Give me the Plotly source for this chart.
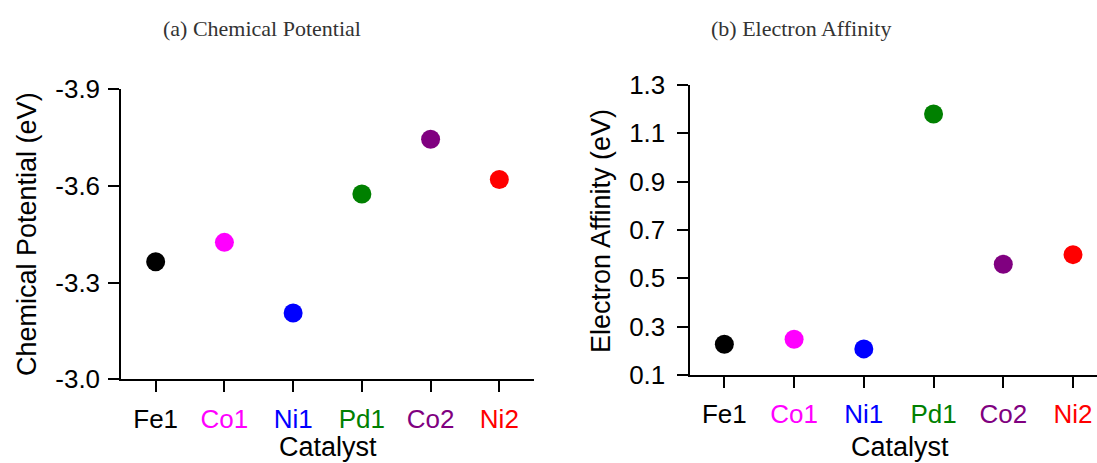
import plotly.graph_objects as go

W, H = 1097, 463

categories = ["Fe1", "Co1", "Ni1", "Pd1", "Co2", "Ni2"]
colors = ["#000000", "#FF00FF", "#0000FF", "#008000", "#800080", "#FF0000"]
chem_potential = [-3.365, -3.425, -3.206, -3.575, -3.745, -3.62]
electron_affinity = [0.227, 0.248, 0.208, 1.18, 0.558, 0.598]

chem_ticks = [-3.0, -3.3, -3.6, -3.9]
ea_ticks = [0.1, 0.3, 0.5, 0.7, 0.9, 1.1, 1.3]

ticktext = [f"<span style='color:{c}'>{n}</span>" for n, c in zip(categories, colors)]

FONT = "Liberation Sans, Arial, sans-serif"
TICKFONT = dict(family=FONT, size=26, color="black")

fig = go.Figure()
fig.add_trace(go.Scatter(x=categories, y=chem_potential, mode="markers",
                         marker=dict(size=19, color=colors, line=dict(width=0)),
                         xaxis="x", yaxis="y", showlegend=False))
fig.add_trace(go.Scatter(x=categories, y=electron_affinity, mode="markers",
                         marker=dict(size=19, color=colors, line=dict(width=0)),
                         xaxis="x2", yaxis="y2", showlegend=False))

common_axis = dict(showline=True, linewidth=2, linecolor="black", ticks="outside",
                   ticklen=11, tickwidth=2, tickcolor="black", showgrid=False,
                   zeroline=False, tickfont=TICKFONT, automargin=False)

# pixel-based domains
lx0, lx1 = 121.3 / W, 533.7 / W
ly0, ly1 = (H - 379.3) / H, (H - 89.3) / H
rx0, rx1 = 689.5 / W, 1.0
ry0, ry1 = (H - 375) / H, (H - 85) / H

fig.update_layout(
    width=W, height=H,
    margin=dict(l=0, r=0, t=0, b=0),
    paper_bgcolor="white", plot_bgcolor="white",
    xaxis=dict(domain=[lx0, lx1], anchor="y", type="category", range=[-0.5, 5.5],
               tickvals=categories, ticktext=ticktext, ticklabelstandoff=4, **common_axis),
    yaxis=dict(domain=[ly0, ly1], anchor="x", range=[-3.0, -3.9], ticklabelstandoff=3,
               tickvals=chem_ticks, ticktext=[f"{v:.1f}" for v in chem_ticks], **common_axis),
    xaxis2=dict(domain=[rx0, rx1], anchor="y2", type="category", range=[-0.5, 5.344],
                tickvals=categories, ticktext=ticktext, ticklabelstandoff=4, **common_axis),
    yaxis2=dict(domain=[ry0, ry1], anchor="x2", range=[0.1, 1.3], ticklabelstandoff=6,
                tickvals=ea_ticks, ticktext=[f"{v:.1f}" for v in ea_ticks], **common_axis),
)

TITLEFONT = dict(family="Liberation Serif, Times New Roman, serif", size=22, color="#333333")
AXTITLE = dict(family=FONT, size=27, color="black")

annotations = [
    dict(text="(a) Chemical Potential", x=262 / W, y=1 - 28 / H, font=TITLEFONT),
    dict(text="(b) Electron Affinity", x=801 / W, y=1 - 28 / H, font=TITLEFONT),
    dict(text="Chemical Potential (eV)", x=27 / W, y=1 - 234 / H, font=AXTITLE, textangle=-90),
    dict(text="Electron Affinity (eV)", x=601 / W, y=1 - 231 / H, font=AXTITLE, textangle=-90),
    dict(text="Catalyst", x=328 / W, y=1 - 447 / H, font=AXTITLE),
    dict(text="Catalyst", x=900 / W, y=1 - 447 / H, font=AXTITLE),
]
for a in annotations:
    a.update(xref="paper", yref="paper", showarrow=False, xanchor="center", yanchor="middle")
fig.update_layout(annotations=annotations)

fig.write_html("out.html")
